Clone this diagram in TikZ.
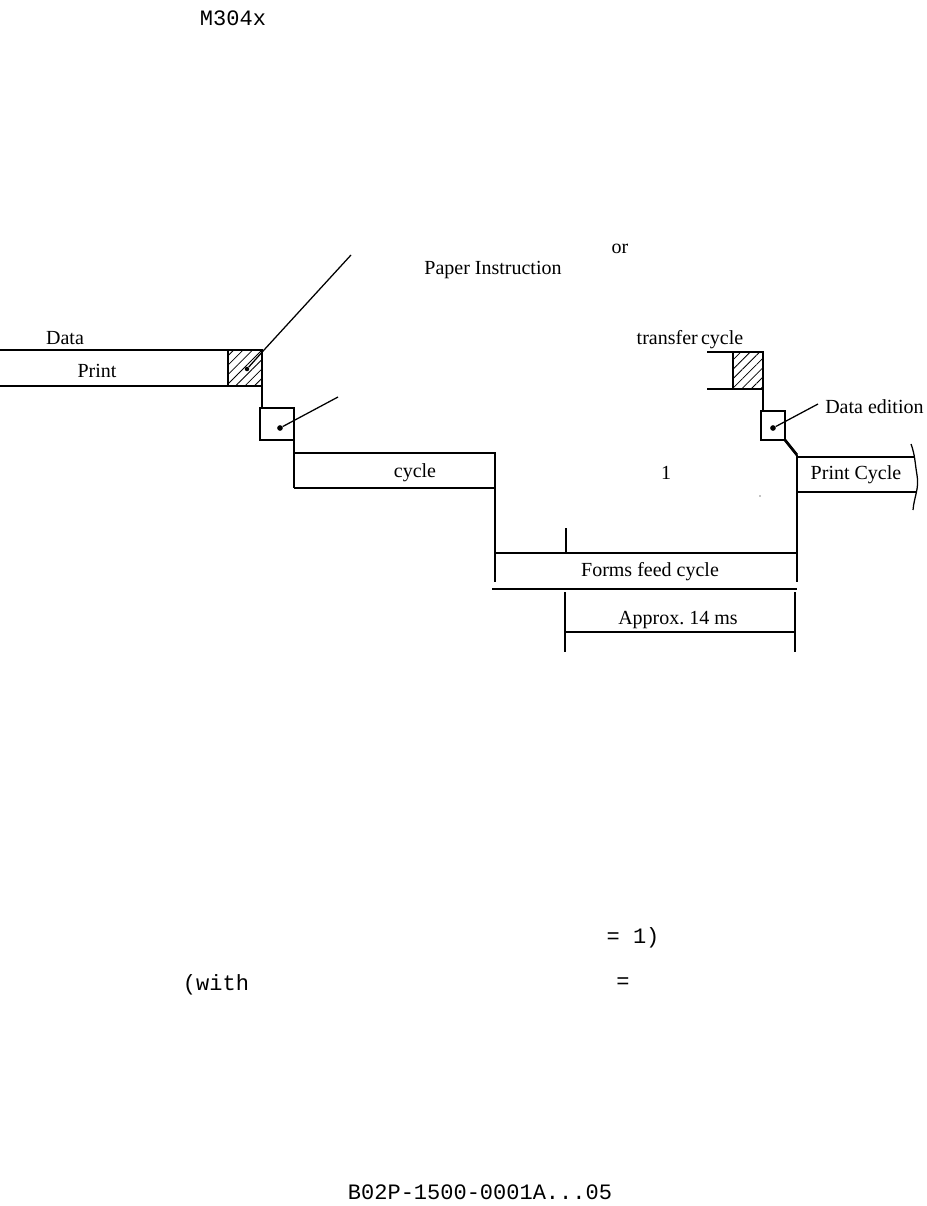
\documentclass[tikz,border=0pt]{standalone}
\usepackage{fontspec}
\setmainfont{Liberation Serif}
\newfontfamily\typew{Liberation Mono}
\usetikzlibrary{patterns.meta}
\begin{document}
\begin{tikzpicture}[x=0.75pt,y=-0.75pt,
  lbl/.style={inner sep=0pt,font=\fontsize{15}{18}\selectfont},
  mono/.style={inner sep=0pt,font=\typew\fontsize{16.5}{20}\selectfont},
  thk/.style={line width=2.1pt},
  thn/.style={line width=0.95pt},
  hatch/.style={pattern={Lines[angle=45,distance=5pt,line width=0.6pt]}},
  dotn/.style={circle,fill,inner sep=1.5pt}]
\useasboundingbox (0,0) rectangle (926,1206);
% texts
\node[mono] (m304) at (233,18) {M304x};
\node[lbl] (or) at (620,249) {or};
\node[lbl] (paper) at (493,270) {Paper Instruction};
\node[lbl] (data) at (65,338) {Data};
\node[lbl] (print) at (97,371) {Print};
\node[lbl] (cyc) at (415,473) {cycle};
\node[lbl] (trans) at (690,340) {transfer\,cycle};
\node[lbl,anchor=west] (dated) at (825,407) {Data edition};
\node[lbl] (pcyc) at (856,475) {Print Cycle};
\node[lbl] (ffc) at (650,572) {Forms feed cycle};
\node[lbl] (appr) at (678,620) {Approx.\ 14 ms};
\node[lbl] (one) at (666,473) {1};
\node[mono] (eq1) at (633,938) {= 1)};
\node[mono] (with) at (216,985) {(with};
\node[mono] (eq2) at (623,983) {=};
\node[mono] (foot) at (480,1192) {B02P-1500-0001A...05};
% left print band
\fill[hatch] (228,350) rectangle (262,386);
\draw[thk] (0,350) -- (262,350) -- (262,386) -- (0,386);
\draw[thn] (228,350) -- (228,386);
\draw[thn] (262,386) -- (262,408);
% left small box
\draw[thk] (260,408) rectangle (294,440);
\node[dotn] (d1) at (280,428) {};
\coordinate (l1) at (338,397);
\draw[thn] (d1) -- (l1);
% leader to paper instruction
\node[dotn,inner sep=1.2pt] (d0) at (247,369) {};
\coordinate (l0) at (351,255);
\draw[thn] (d0) -- (264,350) -- (l0);
% cycle band
\draw[thn] (294,440) -- (294,488);
\draw[thk] (294,453) -- (495,453) -- (495,488) -- (294,488);
\draw[thn] (495,488) -- (495,553);
% forms feed band
\draw[thk] (495,553) -- (797,553);
\draw[thn] (566,528) -- (566,553);
\draw[thn] (495,553) -- (495,582);
\draw[thn] (797,553) -- (797,582);
\draw[thn] (492,589) -- (797,589);
% approx 14 ms
\draw[thn] (565,592) -- (565,652);
\draw[thn] (795,592) -- (795,652);
\draw[thk] (566,632) -- (794,632);
% right transfer band
\fill[hatch] (733,352) rectangle (763,389);
\draw[thk] (707,352) -- (763,352) -- (763,389) -- (707,389);
\draw[thn] (733,352) -- (733,389);
\draw[thn] (763,389) -- (763,411);
\draw[thk] (761,411) rectangle (785,440);
\node[dotn] (d2) at (773,428) {};
\coordinate (l2) at (818,404);
\draw[thn] (d2) -- (l2);
\draw[thk] (785,440) -- (797,455);
% print cycle band
\draw[thk] (797,457) -- (914,457);
\draw[thk] (797,492) -- (916,492);
\draw[thn] (797,455) -- (797,553);
\draw[thn] (911,444) to[out=-70,in=100] (917,475) to[out=-80,in=85] (913,510);
\fill (760,496) circle (0.6);
\end{tikzpicture}
\end{document}
